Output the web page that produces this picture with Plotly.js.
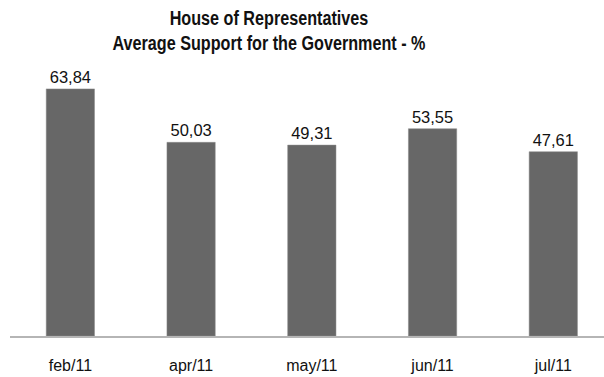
<!DOCTYPE html>
<html>
<head>
<meta charset="utf-8">
<script src="https://cdn.plot.ly/plotly-3.0.1.min.js"></script>
<style>html,body{margin:0;padding:0;background:#fff;}#chart{width:604px;height:377px;}</style>
</head>
<body>
<div id="chart"></div>
<script>
const categories = ["feb/11", "apr/11", "may/11", "jun/11", "jul/11"];
const support = [63.84, 50.03, 49.31, 53.55, 47.61];
const titleLines = ["House of Representatives", "Average Support for the Government - %"];

const titleCenterX = 269;

const trace = {
  type: "bar",
  x: categories,
  y: support,
  marker: {color: "#676767", line: {color: "#8a8a8a", width: 0.5}},
  texttemplate: "%{y:.2f}",
  textposition: "outside",
  cliponaxis: false,
  textfont: {family: "Liberation Sans, Arial, sans-serif", size: 16.5, color: "#111"},
  hoverinfo: "skip"
};

const layout = {
  width: 604, height: 377,
  separators: ",.",
  margin: {l: 10, r: 0, t: 60, b: 41},
  paper_bgcolor: "#fff", plot_bgcolor: "#fff",
  bargap: 0.6,
  showlegend: false,
  title: {
    text: "<b>" + titleLines.join("<br>") + "</b>",
    x: titleCenterX / 604, xanchor: "center", xref: "container",
    y: 1 - 25 / 377, yanchor: "middle", yref: "container",
    font: {family: "Liberation Sans, Arial, sans-serif", size: 19.5, color: "#111"}
  },
  xaxis: {
    type: "category",
    range: [-0.5, 4.42],
    showline: true, linecolor: "#b5b5b5", linewidth: 1.5,
    showgrid: false, zeroline: false, ticks: "",
    tickfont: {family: "Liberation Sans, Arial, sans-serif", size: 16, color: "#111"},
    ticklabelstandoff: 14
  },
  yaxis: {
    range: [0, 71.3],
    visible: false, showgrid: false, zeroline: false
  }
};

Plotly.newPlot("chart", [trace], layout, {displayModeBar: false, staticPlot: true}).then(function (gd) {
  // condense the title horizontally to mimic the narrow bold face of the original
  const t = gd.querySelector(".gtitle");
  if (t) {
    const prev = t.getAttribute("transform") || "";
    const s = 0.83;
    t.setAttribute("transform", "translate(" + titleCenterX + ",0) scale(" + s + ",1) translate(" + (-titleCenterX) + ",0) " + prev);
  }
});
</script>
</body>
</html>
